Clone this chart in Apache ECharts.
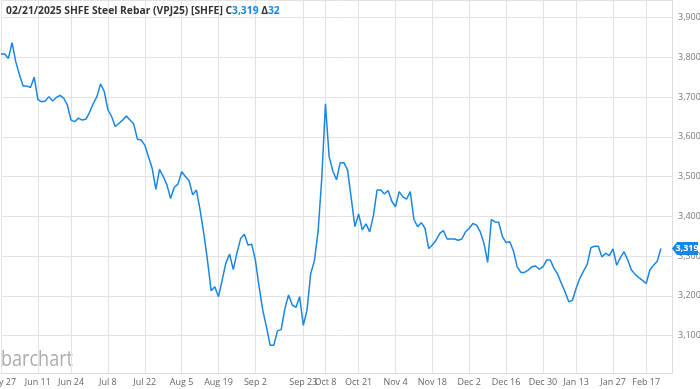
<!DOCTYPE html>
<html><head><meta charset="utf-8">
<script src="https://cdn.jsdelivr.net/npm/echarts@6/dist/echarts.min.js"></script>
<style>html,body{margin:0;padding:0;background:#fff}#c{width:700px;height:389px}</style>
</head><body><div id="c"></div>
<script>
// Trading days (SHFE), May 27 2024 .. Feb 21 2025
const dates = [
"May 27","May 28","May 29","May 30","May 31",
"Jun 3","Jun 4","Jun 5","Jun 6","Jun 7","Jun 11","Jun 12","Jun 13","Jun 14","Jun 17","Jun 18","Jun 19","Jun 20","Jun 21","Jun 24","Jun 25","Jun 26","Jun 27","Jun 28",
"Jul 1","Jul 2","Jul 3","Jul 4","Jul 5","Jul 8","Jul 9","Jul 10","Jul 11","Jul 12","Jul 15","Jul 16","Jul 17","Jul 18","Jul 19","Jul 22","Jul 23","Jul 24","Jul 25","Jul 26","Jul 29","Jul 30","Jul 31",
"Aug 1","Aug 2","Aug 5","Aug 6","Aug 7","Aug 8","Aug 9","Aug 12","Aug 13","Aug 14","Aug 15","Aug 16","Aug 19","Aug 20","Aug 21","Aug 22","Aug 23","Aug 26","Aug 27","Aug 28","Aug 29","Aug 30",
"Sep 2","Sep 3","Sep 4","Sep 5","Sep 6","Sep 9","Sep 10","Sep 11","Sep 12","Sep 13","Sep 18","Sep 19","Sep 20","Sep 23","Sep 24","Sep 25","Sep 26","Sep 27","Sep 30",
"Oct 8","Oct 9","Oct 10","Oct 11","Oct 14","Oct 15","Oct 16","Oct 17","Oct 18","Oct 21","Oct 22","Oct 23","Oct 24","Oct 25","Oct 28","Oct 29","Oct 30","Oct 31",
"Nov 1","Nov 4","Nov 5","Nov 6","Nov 7","Nov 8","Nov 11","Nov 12","Nov 13","Nov 14","Nov 15","Nov 18","Nov 19","Nov 20","Nov 21","Nov 22","Nov 25","Nov 26","Nov 27","Nov 28","Nov 29",
"Dec 2","Dec 3","Dec 4","Dec 5","Dec 6","Dec 9","Dec 10","Dec 11","Dec 12","Dec 13","Dec 16","Dec 17","Dec 18","Dec 19","Dec 20","Dec 23","Dec 24","Dec 25","Dec 26","Dec 27","Dec 30","Dec 31",
"Jan 2","Jan 3","Jan 6","Jan 7","Jan 8","Jan 9","Jan 10","Jan 13","Jan 14","Jan 15","Jan 16","Jan 17","Jan 20","Jan 21","Jan 22","Jan 23","Jan 24","Jan 27",
"Feb 5","Feb 6","Feb 7","Feb 10","Feb 11","Feb 12","Feb 13","Feb 14","Feb 17","Feb 18","Feb 19","Feb 20","Feb 21"
];
// Empty future slots at right edge of the time axis
const padDates = ["Feb 24","Feb 25","Feb 26"];

const closes = [
3808,3808,3797,3837,3789,
3756,3728,3728,3724,3750,3694,3688,3690,3701,3690,3699,3704,3697,3680,3642,3638,3647,3642,3644,
3661,3683,3701,3733,3714,3668,3651,3626,3634,3642,3652,3642,3632,3594,3592,3579,3550,3521,3468,3518,3500,3479,3445,
3473,3481,3512,3500,3490,3454,3466,3416,3357,3290,3213,3223,3198,3240,3283,3305,3266,3308,3344,3355,3328,3330,
3290,3223,3164,3122,3076,3076,3112,3115,3168,3202,3177,3171,3198,3126,3164,3256,3288,3362,3495,
3683,3550,3514,3492,3535,3535,3517,3445,3374,3406,3366,3381,3361,3401,3466,3466,3456,3465,
3438,3424,3462,3449,3443,3462,3392,3374,3384,3370,3319,3328,3340,3357,3364,3343,3343,3343,3340,3343,3361,
3370,3382,3378,3361,3332,3284,3392,3386,3385,3349,3334,3336,3313,3273,3259,3259,3265,3273,3275,3267,3273,3290,
3290,3269,3254,3231,3210,3185,3189,3219,3244,3262,3279,3321,3325,3325,3298,3307,3301,3318,
3277,3296,3311,3290,3265,3254,3246,3239,3231,3265,3277,3287,3319
];

const tickLabels = ["May 27","Jun 11","Jun 24","Jul 8","Jul 22","Aug 5","Aug 19","Sep 2","Sep 23","Oct 8","Oct 21","Nov 4","Nov 18","Dec 2","Dec 16","Dec 30","Jan 13","Jan 27","Feb 17"];

const titleText = "02/21/2025 SHFE Steel Rebar (VPJ25) [SHFE] C";
const lastClose = 3319;
const netChange = 32;

const fmt = v => Number(v).toLocaleString('en-US');
const allDates = dates.concat(padDates);
const isTick = (i, v) => tickLabels.indexOf(v) >= 0;
const blue = '#1a86e2';
const font = 'Open Sans';

const chart = echarts.init(document.getElementById('c'), null, {renderer: 'canvas'});
chart.setOption({
  animation: false,
  backgroundColor: '#fff',
  title: {
    left: 1, top: 1,
    text: '{a|' + titleText + '}{b|' + fmt(lastClose) + '}{a| Δ}{b|' + netChange + '}',
    textStyle: {
      rich: {
        a: {fontFamily: font, fontSize: 10.3, color: '#333'},
        b: {fontFamily: font, fontSize: 10.3, color: blue}
      }
    }
  },
  graphic: [{
    type: 'text', left: 1, top: 350, scaleX: 0.86,
    style: {text: 'barchart', fontFamily: font, fontSize: 21, fontWeight: 500, fill: '#adadad'}
  }],
  grid: {left: 1, right: 28, top: 0, bottom: 16, containLabel: false, outerBoundsMode: 'none'},
  xAxis: {
    type: 'category', data: allDates, boundaryGap: false,
    axisLine: {show: true, lineStyle: {color: '#dcdcdc'}},
    axisTick: {show: false},
    axisLabel: {interval: isTick, color: '#666', fontFamily: font, fontSize: 9, margin: 5, hideOverlap: false},
    splitLine: {show: true, interval: isTick, lineStyle: {color: '#e3e3e3', width: 1}}
  },
  yAxis: {
    type: 'value', position: 'right', min: 3006, max: 3944, splitNumber: 9,
    axisLine: {show: true, lineStyle: {color: '#dcdcdc'}},
    axisTick: {show: false},
    axisLabel: {color: '#777', fontFamily: font, fontSize: 9, margin: 6, showMinLabel: false, showMaxLabel: false, formatter: fmt},
    splitLine: {show: true, lineStyle: {color: '#e3e3e3', width: 1}}
  },
  series: [{
    type: 'line', data: closes, showSymbol: false, symbol: 'none',
    lineStyle: {color: blue, width: 1.5}, clip: true,
    markPoint: {
      symbol: 'path://M0,6 L5,0 L26,0 L26,12 L5,12 Z',
      symbolSize: [26, 13], symbolOffset: [13, 0], silent: true,
      itemStyle: {color: blue},
      label: {show: true, color: '#fff', fontFamily: font, fontSize: 9, fontWeight: 'bold', offset: [2, 0], formatter: () => fmt(lastClose)},
      data: [{coord: [padDates[padDates.length - 1], lastClose]}]
    }
  }]
});
</script></body></html>
